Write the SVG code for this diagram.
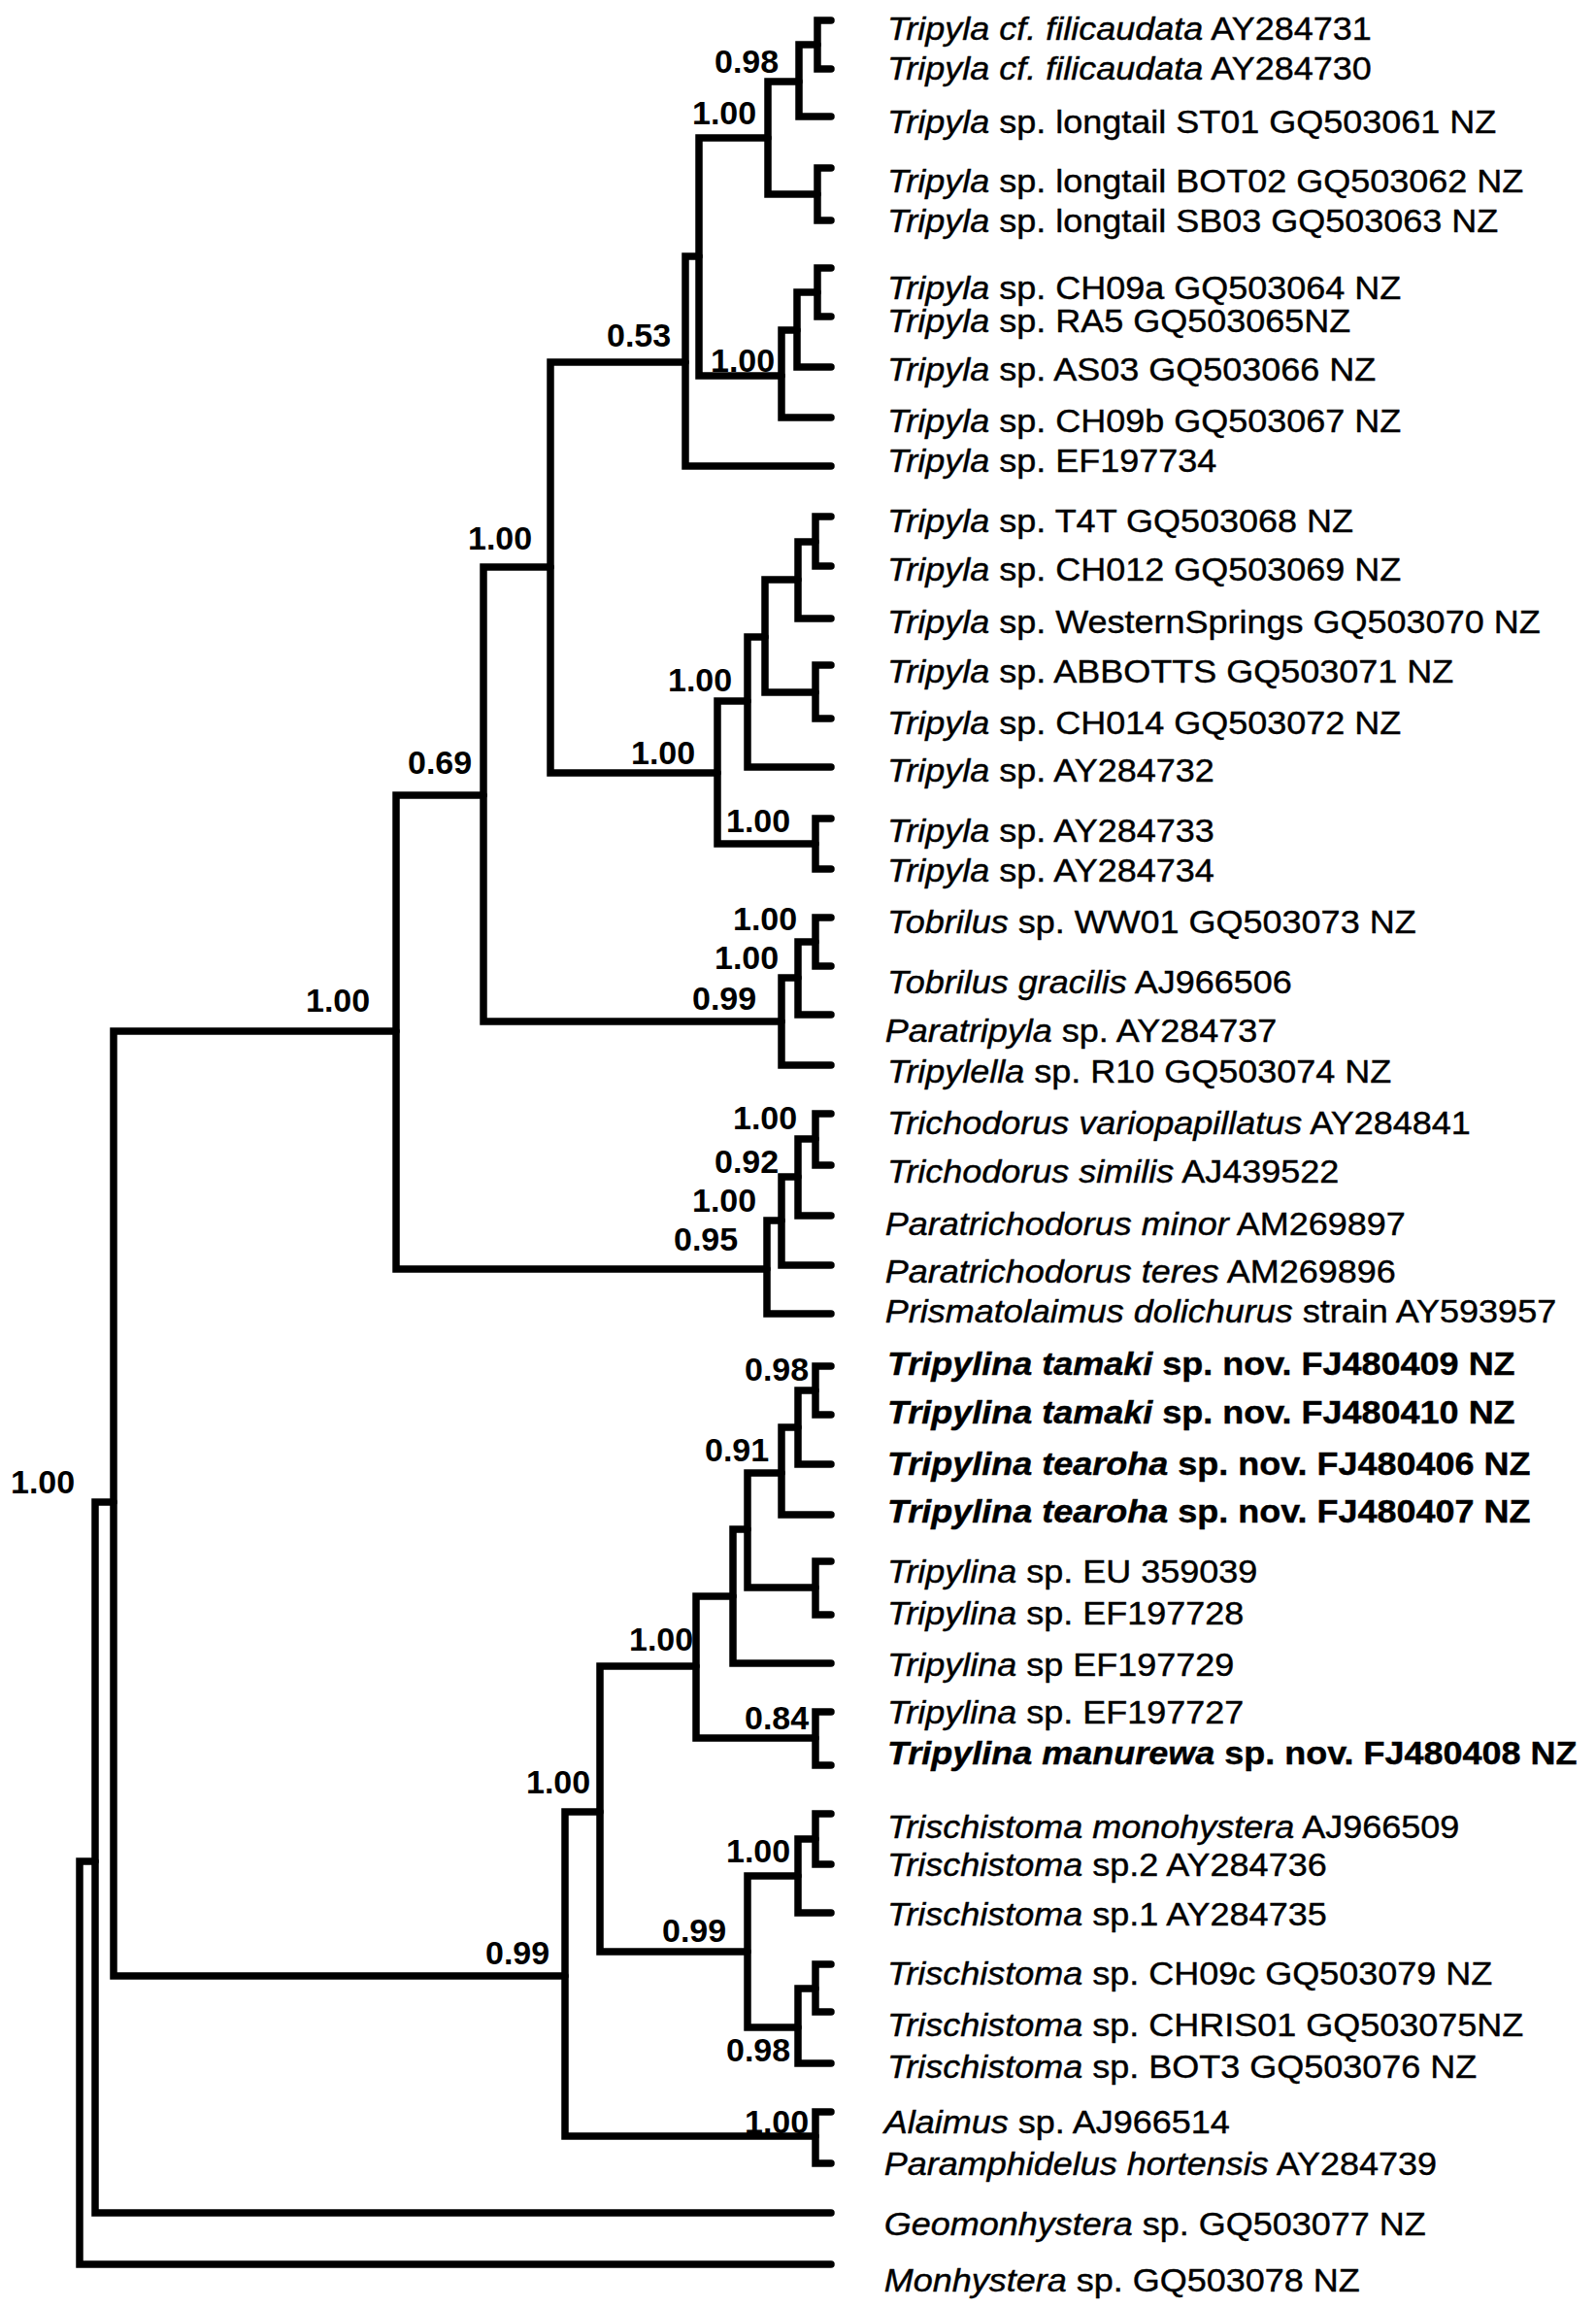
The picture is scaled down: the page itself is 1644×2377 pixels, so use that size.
<svg xmlns="http://www.w3.org/2000/svg" width="1644" height="2377" viewBox="0 0 1644 2377">
<style>
.br{fill:none;stroke:#000;stroke-width:7.5;stroke-linejoin:miter;stroke-linecap:round}
.lab{font-family:"Liberation Sans",Arial,sans-serif;font-size:33px;fill:#000;stroke:#000;stroke-width:0.4}
.i{font-style:italic}
.b{font-weight:bold}
.sup{font-family:"Liberation Sans",Arial,sans-serif;font-size:34px;font-weight:bold;fill:#000}
</style>
<rect width="1644" height="2377" fill="#fff"/>
<g id="connectors">
<path class="br" d="M856,21 H842 V71 H856"/>
<path class="br" d="M842,46 H823 V120 H856"/>
<path class="br" d="M856,173 H842 V227 H856"/>
<path class="br" d="M823,84 H791 V200 H842"/>
<path class="br" d="M856,276 H842 V326 H856"/>
<path class="br" d="M842,301 H821 V378 H856"/>
<path class="br" d="M821,340 H805 V430 H856"/>
<path class="br" d="M791,142 H720 V387 H805"/>
<path class="br" d="M720,264 H706 V480 H856"/>
<path class="br" d="M856,532 H840 V583 H856"/>
<path class="br" d="M840,558 H822 V637 H856"/>
<path class="br" d="M856,685 H840 V740 H856"/>
<path class="br" d="M822,597 H788 V713 H840"/>
<path class="br" d="M788,656 H770 V790 H856"/>
<path class="br" d="M856,843 H840 V895 H856"/>
<path class="br" d="M770,722 H739 V869 H840"/>
<path class="br" d="M706,373 H567 V796 H739"/>
<path class="br" d="M856,945 H840 V995 H856"/>
<path class="br" d="M840,970 H822 V1045 H856"/>
<path class="br" d="M822,1007 H805 V1097 H856"/>
<path class="br" d="M567,584 H498 V1052 H805"/>
<path class="br" d="M856,1147 H840 V1200 H856"/>
<path class="br" d="M840,1173 H822 V1252 H856"/>
<path class="br" d="M822,1212 H805 V1303 H856"/>
<path class="br" d="M805,1257 H790 V1353 H856"/>
<path class="br" d="M498,819 H408 V1307 H790"/>
<path class="br" d="M856,1407 H840 V1457 H856"/>
<path class="br" d="M840,1432 H822 V1508 H856"/>
<path class="br" d="M822,1470 H805 V1560 H856"/>
<path class="br" d="M856,1608 H840 V1663 H856"/>
<path class="br" d="M805,1517 H770 V1635 H840"/>
<path class="br" d="M770,1575 H755 V1713 H856"/>
<path class="br" d="M856,1763 H840 V1818 H856"/>
<path class="br" d="M755,1644 H717 V1790 H840"/>
<path class="br" d="M856,1868 H840 V1920 H856"/>
<path class="br" d="M840,1894 H822 V1970 H856"/>
<path class="br" d="M856,2023 H840 V2072 H856"/>
<path class="br" d="M840,2048 H822 V2125 H856"/>
<path class="br" d="M822,1932 H770 V2088 H822"/>
<path class="br" d="M717,1716 H618 V2010 H770"/>
<path class="br" d="M856,2175 H840 V2228 H856"/>
<path class="br" d="M618,1866 H582 V2200 H840"/>
<path class="br" d="M408,1062 H117 V2035 H582"/>
<path class="br" d="M117,1547 H98 V2279 H856"/>
<path class="br" d="M98,1917 H82 V2332 H856"/>
</g>
<g id="support-values" class="sup">
<g id="n-filicaudata"><text x="736" y="75">0.98</text></g>
<g id="n-longtail"><text x="713" y="128">1.00</text></g>
<g id="n-053"><text x="625" y="357">0.53</text></g>
<g id="n-ch09"><text x="732" y="383">1.00</text></g>
<g id="n-tripyla-a"><text x="482" y="566">1.00</text></g>
<g id="n-t4t"><text x="688" y="712">1.00</text></g>
<g id="n-tripyla-b"><text x="650" y="787">1.00</text></g>
<g id="n-ay2847"><text x="748" y="857">1.00</text></g>
<g id="n-069"><text x="420" y="797">0.69</text></g>
<g id="n-tobrilus"><text x="755" y="958">1.00</text></g>
<g id="n-tobrilus2"><text x="736" y="998">1.00</text></g>
<g id="n-099a"><text x="713" y="1040">0.99</text></g>
<g id="n-enoplea"><text x="315" y="1042">1.00</text></g>
<g id="n-trichodorus"><text x="755" y="1163">1.00</text></g>
<g id="n-092"><text x="736" y="1208">0.92</text></g>
<g id="n-paratrich"><text x="713" y="1248">1.00</text></g>
<g id="n-095"><text x="694" y="1288">0.95</text></g>
<g id="n-tamaki"><text x="767" y="1422">0.98</text></g>
<g id="n-091"><text x="726" y="1505">0.91</text></g>
<g id="n-root100"><text x="11" y="1538">1.00</text></g>
<g id="n-tripylina"><text x="648" y="1700">1.00</text></g>
<g id="n-084"><text x="767" y="1781">0.84</text></g>
<g id="n-tripylidae"><text x="542" y="1847">1.00</text></g>
<g id="n-trischistoma"><text x="748" y="1918">1.00</text></g>
<g id="n-099b"><text x="682" y="2000">0.99</text></g>
<g id="n-099c"><text x="500" y="2023">0.99</text></g>
<g id="n-bot3"><text x="748" y="2123">0.98</text></g>
<g id="n-alaimus"><text x="767" y="2197">1.00</text></g>
</g>
<g id="taxa" class="lab" transform="matrix(1.0909,0,0,1,-83.09,0)">
<g id="t01"><text x="914" y="41"><tspan class="i">Tripyla cf. filicaudata</tspan> AY284731</text></g>
<g id="t02"><text x="914" y="82"><tspan class="i">Tripyla cf. filicaudata</tspan> AY284730</text></g>
<g id="t03"><text x="914" y="137"><tspan class="i">Tripyla</tspan> sp. longtail ST01 GQ503061 NZ</text></g>
<g id="t04"><text x="914" y="198"><tspan class="i">Tripyla</tspan> sp. longtail BOT02 GQ503062 NZ</text></g>
<g id="t05"><text x="914" y="239"><tspan class="i">Tripyla</tspan> sp. longtail SB03 GQ503063 NZ</text></g>
<g id="t06"><text x="914" y="308"><tspan class="i">Tripyla</tspan> sp. CH09a GQ503064 NZ</text></g>
<g id="t07"><text x="914" y="342"><tspan class="i">Tripyla</tspan> sp. RA5 GQ503065NZ</text></g>
<g id="t08"><text x="914" y="392"><tspan class="i">Tripyla</tspan> sp. AS03 GQ503066 NZ</text></g>
<g id="t09"><text x="914" y="445"><tspan class="i">Tripyla</tspan> sp. CH09b GQ503067 NZ</text></g>
<g id="t10"><text x="914" y="486"><tspan class="i">Tripyla</tspan> sp. EF197734</text></g>
<g id="t11"><text x="914" y="548"><tspan class="i">Tripyla</tspan> sp. T4T GQ503068 NZ</text></g>
<g id="t12"><text x="914" y="598"><tspan class="i">Tripyla</tspan> sp. CH012 GQ503069 NZ</text></g>
<g id="t13"><text x="914" y="652"><tspan class="i">Tripyla</tspan> sp. WesternSprings GQ503070 NZ</text></g>
<g id="t14"><text x="914" y="703"><tspan class="i">Tripyla</tspan> sp. ABBOTTS GQ503071 NZ</text></g>
<g id="t15"><text x="914" y="756"><tspan class="i">Tripyla</tspan> sp. CH014 GQ503072 NZ</text></g>
<g id="t16"><text x="914" y="805"><tspan class="i">Tripyla</tspan> sp. AY284732</text></g>
<g id="t17"><text x="914" y="867"><tspan class="i">Tripyla</tspan> sp. AY284733</text></g>
<g id="t18"><text x="914" y="908"><tspan class="i">Tripyla</tspan> sp. AY284734</text></g>
<g id="t19"><text x="914" y="961"><tspan class="i">Tobrilus</tspan> sp. WW01 GQ503073 NZ</text></g>
<g id="t20"><text x="914" y="1023"><tspan class="i">Tobrilus gracilis</tspan> AJ966506</text></g>
<g id="t21"><text x="912" y="1073"><tspan class="i">Paratripyla</tspan> sp. AY284737</text></g>
<g id="t22"><text x="914" y="1115"><tspan class="i">Tripylella</tspan> sp. R10 GQ503074 NZ</text></g>
<g id="t23"><text x="914" y="1168"><tspan class="i">Trichodorus variopapillatus</tspan> AY284841</text></g>
<g id="t24"><text x="914" y="1218"><tspan class="i">Trichodorus similis</tspan> AJ439522</text></g>
<g id="t25"><text x="912" y="1272"><tspan class="i">Paratrichodorus minor</tspan> AM269897</text></g>
<g id="t26"><text x="912" y="1321"><tspan class="i">Paratrichodorus teres</tspan> AM269896</text></g>
<g id="t27"><text x="912" y="1362"><tspan class="i">Prismatolaimus dolichurus</tspan> strain AY593957</text></g>
<g id="t28"><text x="914" y="1416" class="b"><tspan class="i">Tripylina tamaki</tspan> sp. nov. FJ480409 NZ</text></g>
<g id="t29"><text x="914" y="1466" class="b"><tspan class="i">Tripylina tamaki</tspan> sp. nov. FJ480410 NZ</text></g>
<g id="t30"><text x="914" y="1519" class="b"><tspan class="i">Tripylina tearoha</tspan> sp. nov. FJ480406 NZ</text></g>
<g id="t31"><text x="914" y="1568" class="b"><tspan class="i">Tripylina tearoha</tspan> sp. nov. FJ480407 NZ</text></g>
<g id="t32"><text x="914" y="1630"><tspan class="i">Tripylina</tspan> sp. EU 359039</text></g>
<g id="t33"><text x="914" y="1673"><tspan class="i">Tripylina</tspan> sp. EF197728</text></g>
<g id="t34"><text x="914" y="1726"><tspan class="i">Tripylina</tspan> sp EF197729</text></g>
<g id="t35"><text x="914" y="1775"><tspan class="i">Tripylina</tspan> sp. EF197727</text></g>
<g id="t36"><text x="914" y="1817" class="b"><tspan class="i">Tripylina manurewa</tspan> sp. nov. FJ480408 NZ</text></g>
<g id="t37"><text x="914" y="1893"><tspan class="i">Trischistoma monohystera</tspan> AJ966509</text></g>
<g id="t38"><text x="914" y="1932"><tspan class="i">Trischistoma</tspan> sp.2 AY284736</text></g>
<g id="t39"><text x="914" y="1983"><tspan class="i">Trischistoma</tspan> sp.1 AY284735</text></g>
<g id="t40"><text x="914" y="2044"><tspan class="i">Trischistoma</tspan> sp. CH09c GQ503079 NZ</text></g>
<g id="t41"><text x="914" y="2097"><tspan class="i">Trischistoma</tspan> sp. CHRIS01 GQ503075NZ</text></g>
<g id="t42"><text x="914" y="2140"><tspan class="i">Trischistoma</tspan> sp. BOT3 GQ503076 NZ</text></g>
<g id="t43"><text x="911" y="2197"><tspan class="i">Alaimus</tspan> sp. AJ966514</text></g>
<g id="t44"><text x="911" y="2240"><tspan class="i">Paramphidelus hortensis</tspan> AY284739</text></g>
<g id="t45"><text x="911" y="2302"><tspan class="i">Geomonhystera</tspan> sp. GQ503077 NZ</text></g>
<g id="t46"><text x="911" y="2360"><tspan class="i">Monhystera</tspan> sp. GQ503078 NZ</text></g>
</g>
</svg>
